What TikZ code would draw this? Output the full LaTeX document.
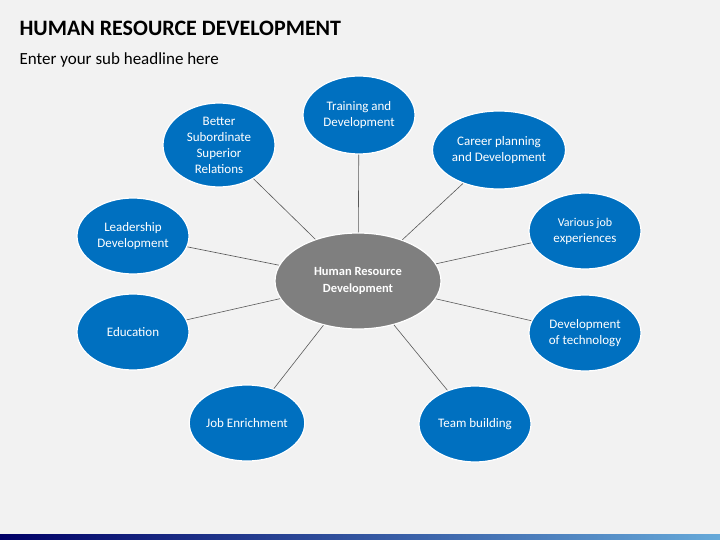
\documentclass[tikz,border=0pt]{standalone}
\usepackage{fontspec}
\setmainfont{Carlito}
\usetikzlibrary{shapes.geometric}
\definecolor{hrblue}{HTML}{0070C0}
\definecolor{hrgray}{HTML}{7F7F7F}
\definecolor{hrbg}{HTML}{F2F2F2}
\tikzset{
  topic/.style={ellipse,fill=hrblue,draw=white,line width=1.2pt,minimum width=112pt,minimum height=78pt,inner sep=0pt,
    text=white,align=center,font=\fontsize{13}{16}\selectfont},
  hub/.style={ellipse,fill=hrgray,draw=white,line width=1.2pt,minimum width=166pt,minimum height=96pt,
    text=white,align=center,font=\bfseries\fontsize{12.5}{17}\selectfont},
  spoke/.style={draw=black!65,line width=0.6pt}
}
\begin{document}
\begin{tikzpicture}[x=1pt,y=-1pt]
\fill[hrbg] (0,0) rectangle (720,540);
\useasboundingbox (0,0) rectangle (720,540);
\fill[left color=blue!40!black,right color=hrblue!60] (0,534) rectangle (720,540);
\node[anchor=west,font=\bfseries\fontsize{22}{26}\selectfont] (title) at (16,28) {HUMAN RESOURCE DEVELOPMENT};
\node[anchor=west,font=\fontsize{17}{20}\selectfont] (sub) at (16,60) {Enter your sub headline here};
% hub and topics
\node[hub] (hrd) at (358,281) {Human Resource\\Development};
\node[topic] (train) at (359,115) {Training and\\Development};
\node[topic,minimum height=84pt] (rel) at (219,145) {Better\\Subordinate\\Superior\\Relations};
\node[topic] (career) at (499,150) {Career planning\\and Development};
\node[topic,minimum height=76pt] (lead) at (133,236) {Leadership\\Development};
\node[topic,minimum height=76pt] (jobs) at (585,231) {\fontsize{12}{16}\selectfont Various job\\experiences};
\node[topic,minimum height=76pt] (edu) at (133,332) {Education};
\node[topic,minimum height=76pt] (tech) at (585,333) {Development\\of technology};
\node[topic,minimum height=76pt] (enrich) at (247,423) {Job Enrichment};
\node[topic,minimum height=76pt] (team) at (475,424) {Team building};
% spokes
\foreach \t in {train,rel,career,lead,jobs,edu,tech,enrich,team}
  \draw[spoke] (hrd) -- (\t);
\end{tikzpicture}
\end{document}
